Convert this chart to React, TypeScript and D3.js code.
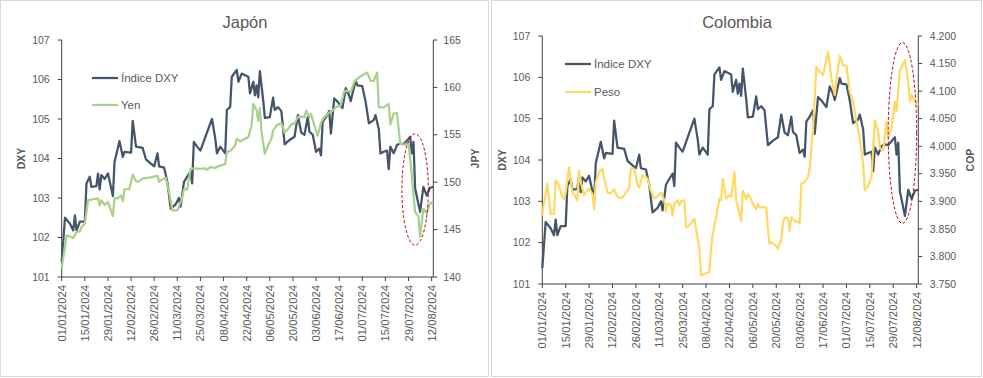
import React from "react";
import * as d3 from "d3";

// ---------- DATA ----------
const dxyDates = [
  "2024-01-01","2024-01-03","2024-01-06","2024-01-08","2024-01-09","2024-01-10","2024-01-12","2024-01-15",
  "2024-01-16","2024-01-18","2024-01-19","2024-01-22","2024-01-23","2024-01-24","2024-01-25","2024-01-27",
  "2024-01-29","2024-02-01","2024-02-02","2024-02-05","2024-02-07","2024-02-08","2024-02-12","2024-02-13",
  "2024-02-15","2024-02-19","2024-02-21","2024-02-24","2024-02-26","2024-02-28","2024-02-29","2024-03-03",
  "2024-03-05","2024-03-07","2024-03-10","2024-03-12","2024-03-13","2024-03-15","2024-03-17","2024-03-19",
  "2024-03-20","2024-03-21","2024-03-23","2024-03-25","2024-03-28","2024-04-01","2024-04-03","2024-04-04",
  "2024-04-06","2024-04-09","2024-04-10","2024-04-12","2024-04-13","2024-04-16","2024-04-17","2024-04-19",
  "2024-04-21","2024-04-23","2024-04-24","2024-04-26","2024-04-27","2024-04-28","2024-04-29","2024-04-30",
  "2024-05-02","2024-05-03","2024-05-06","2024-05-08","2024-05-09","2024-05-11","2024-05-13","2024-05-15",
  "2024-05-18","2024-05-21","2024-05-23","2024-05-25","2024-05-27","2024-05-29","2024-05-30","2024-06-01",
  "2024-06-03","2024-06-05","2024-06-06","2024-06-07","2024-06-09","2024-06-11","2024-06-12","2024-06-14",
  "2024-06-16","2024-06-19","2024-06-21","2024-06-23","2024-06-24","2024-06-27","2024-06-28","2024-07-01",
  "2024-07-03","2024-07-05","2024-07-08","2024-07-09","2024-07-11","2024-07-12","2024-07-14","2024-07-16",
  "2024-07-17","2024-07-18","2024-07-20","2024-07-22","2024-07-24","2024-07-26","2024-07-29","2024-07-30",
  "2024-07-31","2024-08-01","2024-08-02","2024-08-05","2024-08-07","2024-08-09","2024-08-11","2024-08-13",
];
const dxyValues = [
  101.38,102.5,102.35,102.18,102.56,102.18,102.4,102.4,
  103.37,103.54,103.28,103.3,103.62,103.22,103.58,103.48,
  103.62,103.05,103.92,104.44,104.04,104.17,104.15,104.95,
  104.3,104.27,103.98,103.87,103.8,104.13,103.8,103.77,
  103.4,102.73,102.84,103.0,102.78,103.4,103.54,103.67,
  103.37,104.42,104.3,104.2,104.55,105.0,104.5,104.13,
  104.3,104.13,105.23,105.3,106.07,106.24,105.94,106.15,
  106.11,106.07,105.65,105.94,105.6,105.85,105.55,106.21,
  105.48,105.03,105.05,105.54,105.23,105.3,105.2,104.36,
  104.47,104.55,105.1,104.66,104.6,105.05,104.68,104.6,
  104.17,104.25,104.08,104.93,105.05,105.2,104.63,105.52,
  105.44,105.28,105.78,105.6,105.45,105.98,105.85,105.83,
  105.44,104.89,104.98,105.1,104.74,104.13,104.17,104.2,
  103.73,104.3,104.13,104.34,104.38,104.36,104.5,104.55,
  104.13,104.42,103.24,102.65,103.28,103.06,103.26,103.28,
];

const yenDates = [
  "2024-01-01","2024-01-04","2024-01-07","2024-01-08","2024-01-10","2024-01-12","2024-01-13","2024-01-15",
  "2024-01-17","2024-01-23","2024-01-24","2024-01-25","2024-01-27","2024-01-29","2024-02-01","2024-02-02",
  "2024-02-04","2024-02-06","2024-02-07","2024-02-08","2024-02-11","2024-02-13","2024-02-15","2024-02-17",
  "2024-02-19","2024-02-22","2024-02-25","2024-02-28","2024-02-29","2024-03-01","2024-03-04","2024-03-06",
  "2024-03-08","2024-03-11","2024-03-13","2024-03-14","2024-03-15","2024-03-17","2024-03-19","2024-03-21",
  "2024-03-25","2024-03-28","2024-03-29","2024-03-31","2024-04-03","2024-04-05","2024-04-09","2024-04-10",
  "2024-04-12","2024-04-15","2024-04-16","2024-04-18","2024-04-21","2024-04-23","2024-04-25","2024-04-26",
  "2024-04-28","2024-04-29","2024-04-30","2024-05-01","2024-05-03","2024-05-05","2024-05-07","2024-05-08",
  "2024-05-10","2024-05-13","2024-05-15","2024-05-17","2024-05-19","2024-05-21","2024-05-23","2024-05-25",
  "2024-05-27","2024-05-28","2024-05-30","2024-05-31","2024-06-02","2024-06-04","2024-06-06","2024-06-08",
  "2024-06-10","2024-06-13","2024-06-15","2024-06-18","2024-06-20","2024-06-22","2024-06-24","2024-06-26",
  "2024-06-28","2024-07-01","2024-07-04","2024-07-06","2024-07-08","2024-07-10","2024-07-11","2024-07-14",
  "2024-07-17","2024-07-18","2024-07-20","2024-07-22","2024-07-24","2024-07-27","2024-07-29","2024-07-31",
  "2024-08-02","2024-08-04","2024-08-05","2024-08-07","2024-08-09","2024-08-11","2024-08-13",
];
const yenValues = [
  140.9,144.4,144.2,144.1,144.75,144.8,145.27,145.6,
  148.1,148.3,147.56,148.1,147.6,147.9,146.43,148.33,
  148.3,148.6,148.0,149.24,149.3,150.8,150.1,150.1,
  150.4,150.46,150.56,150.67,150.04,150.2,150.46,149.0,
  147.03,147.03,147.9,148.4,149.24,149.24,151.4,151.46,
  151.4,151.46,151.3,151.6,151.5,151.7,151.9,153.17,
  153.3,153.85,154.58,154.3,154.6,154.75,155.98,158.26,
  157.6,156.5,157.8,155.27,153.0,153.9,154.6,155.45,
  155.98,156.25,155.24,155.6,156.1,156.2,156.85,156.95,
  156.85,157.56,156.85,157.2,155.98,154.9,156.3,156.85,
  157.2,157.56,157.9,158.1,159.56,159.66,159.5,160.54,
  160.9,161.28,161.56,160.7,160.7,161.56,157.9,157.9,
  158.26,156.1,157.2,157.3,154.05,153.95,154.2,150.7,
  146.85,146.4,144.22,147.2,146.7,147.76,147.9,
];

const pesoDates = [
  "2024-01-01","2024-01-02","2024-01-04","2024-01-06","2024-01-08","2024-01-09","2024-01-11","2024-01-13",
  "2024-01-14","2024-01-15","2024-01-17","2024-01-19","2024-01-21","2024-01-22","2024-01-23","2024-01-24",
  "2024-01-26","2024-01-27","2024-01-29","2024-01-31","2024-02-01","2024-02-02","2024-02-04","2024-02-06",
  "2024-02-07","2024-02-09","2024-02-11","2024-02-13","2024-02-14","2024-02-16","2024-02-18","2024-02-20",
  "2024-02-22","2024-02-23","2024-02-25","2024-02-27","2024-02-28","2024-03-01","2024-03-03","2024-03-04",
  "2024-03-06","2024-03-08","2024-03-10","2024-03-12","2024-03-14","2024-03-15","2024-03-16","2024-03-18",
  "2024-03-19","2024-03-20","2024-03-22","2024-03-23","2024-03-24","2024-03-26","2024-03-27","2024-03-29",
  "2024-04-01","2024-04-02","2024-04-04","2024-04-05","2024-04-07","2024-04-10","2024-04-11","2024-04-12",
  "2024-04-14","2024-04-16","2024-04-17","2024-04-18","2024-04-20","2024-04-22","2024-04-23","2024-04-25",
  "2024-04-26","2024-04-29","2024-04-30","2024-05-02","2024-05-03","2024-05-05","2024-05-06","2024-05-08",
  "2024-05-09","2024-05-10","2024-05-14","2024-05-15","2024-05-16","2024-05-17","2024-05-20","2024-05-21",
  "2024-05-23","2024-05-24","2024-05-25","2024-05-27","2024-05-28","2024-05-29","2024-05-31","2024-06-03",
  "2024-06-04","2024-06-06","2024-06-08","2024-06-09","2024-06-10","2024-06-11","2024-06-13","2024-06-15",
  "2024-06-17","2024-06-20","2024-06-22","2024-06-24","2024-06-25","2024-06-27","2024-06-29","2024-07-01",
  "2024-07-03","2024-07-05","2024-07-07","2024-07-09","2024-07-11","2024-07-12","2024-07-14","2024-07-16",
  "2024-07-18","2024-07-20","2024-07-21","2024-07-23","2024-07-25","2024-07-26","2024-07-28","2024-07-30",
  "2024-07-31","2024-08-02","2024-08-05","2024-08-07","2024-08-08","2024-08-09","2024-08-11","2024-08-13",
];
const pesoValues = [
  3.874,3.896,3.932,3.877,3.878,3.938,3.929,3.908,
  3.904,3.916,3.962,3.916,3.908,3.902,3.956,3.935,
  3.911,3.916,3.923,3.913,3.886,3.935,3.953,3.959,
  3.941,3.916,3.915,3.922,3.913,3.906,3.907,3.916,
  3.925,3.96,3.959,3.929,3.925,3.947,3.944,3.941,
  3.919,3.905,3.909,3.916,3.902,3.882,3.896,3.893,
  3.874,3.896,3.902,3.893,3.9,3.902,3.853,3.856,
  3.868,3.849,3.814,3.766,3.768,3.772,3.814,3.841,
  3.871,3.905,3.902,3.941,3.905,3.911,3.908,3.953,
  3.902,3.865,3.919,3.904,3.913,3.904,3.895,3.886,
  3.895,3.889,3.889,3.85,3.823,3.826,3.819,3.814,
  3.831,3.862,3.871,3.869,3.847,3.871,3.865,3.861,
  3.932,3.935,3.944,3.959,3.996,4.032,4.144,4.135,
  4.129,4.171,4.123,4.093,4.12,4.164,4.147,4.146,
  4.099,4.081,4.045,4.014,3.966,3.92,3.929,3.944,
  4.047,4.026,3.996,3.993,4.044,4.017,4.032,4.081,
  4.063,4.138,4.156,4.117,4.081,4.093,4.081,4.075,
];

const dxyTicks = [101, 102, 103, 104, 105, 106, 107];
const jpyTicks = [140, 145, 150, 155, 160, 165];
const copTicks = [3.75, 3.8, 3.85, 3.9, 3.95, 4.0, 4.05, 4.1, 4.15, 4.2];
const xStart = "2024-01-01";
const xEnd = "2024-08-13";
const tickStepDays = 14;
const tickCount = 17;

// highlighted windows (dashed ellipses): date span and secondary-axis value span
const japanHighlight = { from: "2024-07-25", to: "2024-08-10", low: 143.35, high: 155.1 };
const colombiaHighlight = { from: "2024-07-26", to: "2024-08-12", low: 3.86, high: 4.188 };

// ---------- DRAWING ----------
const parse = d3.utcParse("%Y-%m-%d");
const fmtDate = d3.utcFormat("%d/%m/%Y");
const FONT = "'Liberation Sans', Arial, sans-serif";
const TXT = "#595959";
const AXIS = "#404040";
const DXY_COLOR = "#44546A";

type Cfg = {
  x0: number; x1: number; yTop: number; yBot: number;
  rDomain: [number, number]; rTicks: number[]; rFmt: (v: number) => string;
  dates2: string[]; values2: number[]; color2: string; name2: string;
  title: string; titleX: number; rTitle: string;
  legendY: [number, number]; legendX: number;
  lTitleX: number; rTitleX: number; lLabelGap: number; rLabelGap: number;
  hl: { from: string; to: string; low: number; high: number };
};

function Panel({ c }: { c: Cfg }) {
  const start = parse(xStart)!;
  const x = d3.scaleUtc().domain([start, parse(xEnd)!]).range([c.x0, c.x1]);
  const yL = d3.scaleLinear().domain([101, 107]).range([c.yBot, c.yTop]);
  const yR = d3.scaleLinear().domain(c.rDomain).range([c.yBot, c.yTop]);
  const ticks = d3.range(tickCount).map((i) => d3.utcDay.offset(start, i * tickStepDays));
  const dxyPts: [Date, number][] = dxyDates.map((d, i) => [parse(d)!, dxyValues[i]]);
  const s2Pts: [Date, number][] = c.dates2.map((d, i) => [parse(d)!, c.values2[i]]);
  const lineL = d3.line<[Date, number]>().x((d) => x(d[0])).y((d) => yL(d[1]));
  const lineR = d3.line<[Date, number]>().x((d) => x(d[0])).y((d) => yR(d[1]));
  const hx0 = x(parse(c.hl.from)!), hx1 = x(parse(c.hl.to)!);
  const hy0 = yR(c.hl.high), hy1 = yR(c.hl.low);
  const midY = (c.yTop + c.yBot) / 2;
  return (
    <g fontFamily={FONT}>
      <text x={c.titleX} y={28} textAnchor="middle" fontSize={16.5} fill={TXT}>{c.title}</text>
      {/* axes */}
      <line x1={c.x0} x2={c.x0} y1={c.yTop} y2={c.yBot} stroke={AXIS} strokeWidth={1} />
      <line x1={c.x1} x2={c.x1} y1={c.yTop} y2={c.yBot} stroke={AXIS} strokeWidth={1} />
      <line x1={c.x0} x2={c.x1} y1={c.yBot} y2={c.yBot} stroke={AXIS} strokeWidth={1} />
      {dxyTicks.map((t) => (
        <g key={"l" + t}>
          <line x1={c.x0 - 4} x2={c.x0} y1={yL(t)} y2={yL(t)} stroke={AXIS} />
          <text x={c.x0 - c.lLabelGap} y={yL(t)} dy="0.35em" textAnchor="end" fontSize={10.5} fill={TXT}>{t}</text>
        </g>
      ))}
      {c.rTicks.map((t) => (
        <g key={"r" + t}>
          <line x1={c.x1} x2={c.x1 + 4} y1={yR(t)} y2={yR(t)} stroke={AXIS} />
          <text x={c.x1 + c.rLabelGap} y={yR(t)} dy="0.35em" textAnchor="start" fontSize={10.5} fill={TXT}>{c.rFmt(t)}</text>
        </g>
      ))}
      {ticks.map((t) => (
        <g key={"x" + t.getTime()}>
          <line x1={x(t)} x2={x(t)} y1={c.yBot} y2={c.yBot + 4} stroke={AXIS} />
          <text transform={`translate(${x(t) + 4},${c.yBot + 8}) rotate(-90)`} textAnchor="end" fontSize={11.3} fill={TXT}>{fmtDate(t)}</text>
        </g>
      ))}
      <text transform={`translate(${c.lTitleX},${midY}) rotate(-90)`} textAnchor="middle" fontSize={10.5} fontWeight="bold" fill={TXT}>DXY</text>
      <text transform={`translate(${c.rTitleX},${midY}) rotate(-90)`} textAnchor="middle" fontSize={10.5} fontWeight="bold" fill={TXT}>{c.rTitle}</text>
      {/* series */}
      <path d={lineL(dxyPts)!} fill="none" stroke={DXY_COLOR} strokeWidth={2.25} strokeLinejoin="round" />
      <path d={lineR(s2Pts)!} fill="none" stroke={c.color2} strokeWidth={2.25} strokeLinejoin="round" />
      {/* highlight ellipse */}
      <ellipse cx={(hx0 + hx1) / 2} cy={(hy0 + hy1) / 2} rx={(hx1 - hx0) / 2} ry={(hy1 - hy0) / 2}
        fill="none" stroke="#C00000" strokeWidth={1} strokeDasharray="3,2" />
      {/* legend */}
      <line x1={c.legendX} x2={c.legendX + 26} y1={c.legendY[0]} y2={c.legendY[0]} stroke={DXY_COLOR} strokeWidth={2.25} />
      <text x={c.legendX + 29} y={c.legendY[0]} dy="0.35em" fontSize={11.5} fill={TXT}>Índice DXY</text>
      <line x1={c.legendX} x2={c.legendX + 26} y1={c.legendY[1]} y2={c.legendY[1]} stroke={c.color2} strokeWidth={2.25} />
      <text x={c.legendX + 29} y={c.legendY[1]} dy="0.35em" fontSize={11.5} fill={TXT}>{c.name2}</text>
    </g>
  );
}

const fmtCop = d3.format(".3f");

export default function App() {
  const japan: Cfg = {
    x0: 61.7, x1: 433.3, yTop: 40, yBot: 277,
    rDomain: [140, 165], rTicks: jpyTicks, rFmt: (v) => String(v),
    dates2: yenDates, values2: yenValues, color2: "#A9D18E", name2: "Yen",
    title: "Japón", titleX: 245, rTitle: "JPY",
    legendY: [78, 105], legendX: 92,
    lTitleX: 25, rTitleX: 479, lLabelGap: 12, rLabelGap: 10,
    hl: japanHighlight,
  };
  const colombia: Cfg = {
    x0: 542.3, x1: 918.3, yTop: 36, yBot: 284,
    rDomain: [3.75, 4.2], rTicks: copTicks, rFmt: (v) => fmtCop(v),
    dates2: pesoDates, values2: pesoValues, color2: "#FFD966", name2: "Peso",
    title: "Colombia", titleX: 737, rTitle: "COP",
    legendY: [64, 92], legendX: 565,
    lTitleX: 506, rTitleX: 974, lLabelGap: 12, rLabelGap: 11.5,
    hl: colombiaHighlight,
  };
  return (
    <svg width={983} height={378} style={{ position: "absolute", left: 0, top: 0, background: "#fff" }}>
      <rect x={0} y={0} width={983} height={378} fill="#fff" />
      <rect x={0.5} y={0.5} width={488} height={376} fill="#fff" stroke="#D9D9D9" />
      <rect x={491.5} y={0.5} width={490} height={376} fill="#fff" stroke="#D9D9D9" />
      <Panel c={japan} />
      <Panel c={colombia} />
    </svg>
  );
}
